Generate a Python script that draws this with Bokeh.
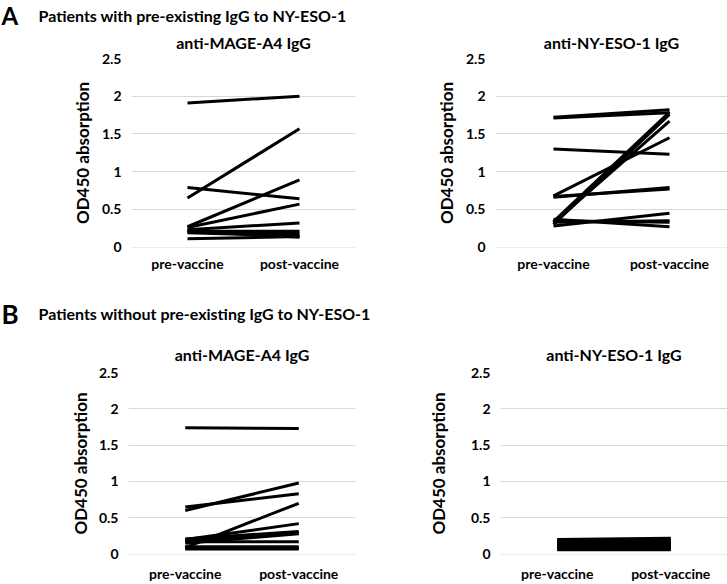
from bokeh.plotting import figure
from bokeh.models import (ColumnDataSource, FactorRange, Range1d, FixedTicker,
                          NumeralTickFormatter, Title)
from bokeh.layouts import column, row
from bokeh.core.properties import value
from bokeh.embed import file_html
from bokeh.resources import INLINE

FONT = "Lato"

categories = ["pre-vaccine", "post-vaccine"]
y_ticks = [0, 0.5, 1, 1.5, 2, 2.5]

header_a = "Patients with pre-existing IgG to NY-ESO-1"
header_b = "Patients without pre-existing IgG to NY-ESO-1"
title_mage = "anti-MAGE-A4 IgG"
title_nyeso = "anti-NY-ESO-1 IgG"
y_label = "OD450 absorption"

# Panel A, anti-MAGE-A4 IgG
a_mage_pre = [1.91, 0.65, 0.79, 0.27, 0.26, 0.23, 0.21, 0.20, 0.19, 0.22, 0.11]
a_mage_post = [2.00, 1.57, 0.64, 0.89, 0.57, 0.32, 0.21, 0.18, 0.15, 0.13, 0.14]

# Panel A, anti-NY-ESO-1 IgG
a_nyeso_pre = [1.72, 1.71, 1.30, 0.68, 0.66, 0.67, 0.34, 0.32, 0.30, 0.37, 0.28, 0.33, 0.35]
a_nyeso_post = [1.82, 1.78, 1.23, 1.45, 0.79, 0.77, 1.79, 1.67, 1.76, 0.27, 0.45, 0.35, 0.33]

# Panel B, anti-MAGE-A4 IgG
b_mage_pre = [1.74, 0.65, 0.60, 0.09, 0.20, 0.21, 0.18, 0.15, 0.17, 0.10, 0.08, 0.07]
b_mage_post = [1.73, 0.83, 0.98, 0.70, 0.42, 0.31, 0.29, 0.28, 0.17, 0.10, 0.08, 0.07]

# Panel B, anti-NY-ESO-1 IgG
b_nyeso_pre = [0.20, 0.19, 0.17, 0.16, 0.15, 0.14, 0.13, 0.12, 0.11, 0.10, 0.09, 0.08, 0.07, 0.06]
b_nyeso_post = [0.22, 0.20, 0.18, 0.15, 0.16, 0.12, 0.14, 0.10, 0.12, 0.09, 0.10, 0.07, 0.08, 0.06]


def panel(title, pre, post, width, height, left, right, top, bottom,
          ylab_standoff, spacer_px, xlab_standoff):
    p = figure(width=width, height=height, output_backend="svg", toolbar_location=None,
               x_range=FactorRange(*categories), y_range=Range1d(-0.005, 2.5),
               min_border_left=left, min_border_right=right,
               min_border_top=top, min_border_bottom=bottom)
    # thin blank title used as a gap between the frame and the panel title
    p.add_layout(Title(text=" ", text_font_size=f"{spacer_px}px", standoff=0), "above")
    p.add_layout(Title(text=title, align="center", text_font=FONT, text_font_style="bold",
                       text_font_size="16px", text_color="#000000", standoff=0), "above")
    src = ColumnDataSource(dict(xs=[list(categories) for _ in pre],
                                ys=[[a, b] for a, b in zip(pre, post)]))
    p.multi_line(xs="xs", ys="ys", source=src, line_color="black", line_width=3)
    p.outline_line_color = None
    p.xgrid.grid_line_color = None
    p.ygrid.grid_line_color = "#d9d9d9"
    p.ygrid.grid_line_width = 1
    p.yaxis.ticker = FixedTicker(ticks=y_ticks)
    p.yaxis.formatter = NumeralTickFormatter(format="0.[0]")
    for ax in (p.xaxis[0], p.yaxis[0]):
        ax.axis_line_color = None
        ax.major_tick_line_color = None
        ax.minor_tick_line_color = None
        ax.major_tick_out = 0
        ax.major_tick_in = 0
        ax.major_label_text_font = FONT
        ax.major_label_text_font_style = "bold"
        ax.major_label_text_font_size = "14px"
        ax.major_label_text_color = "#000000"
    p.xaxis.major_label_standoff = xlab_standoff
    p.yaxis.major_label_standoff = 10
    p.yaxis.axis_label = y_label
    p.yaxis.axis_label_text_font = FONT
    p.yaxis.axis_label_text_font_style = "bold"
    p.yaxis.axis_label_text_font_size = "17px"
    p.yaxis.axis_label_text_color = "#000000"
    p.yaxis.axis_label_standoff = ylab_standoff
    return p


def header(letter, text, height, ymid, letter_size):
    h = figure(width=727, height=height, output_backend="svg", toolbar_location=None,
               x_range=Range1d(0, 727), y_range=Range1d(0, height),
               x_axis_location=None, y_axis_location=None, min_border=0)
    h.outline_line_color = None
    h.grid.grid_line_color = None
    h.text(x=[1], y=[ymid], text=[letter], text_font=value(FONT), text_font_style="bold",
           text_font_size=letter_size, text_baseline="middle", text_align="left",
           text_color="black")
    h.text(x=[38], y=[ymid], text=[text], text_font=value(FONT), text_font_style="bold",
           text_font_size="16px", text_baseline="middle", text_align="left", text_color="black")
    return h


hA = header("A", header_a, 29, 14.5, "24px")
p1 = panel(title_mage, a_mage_pre, a_mage_post, 364, 256, 131, 9, 29, 38, 6, 4, 7)
p2 = panel(title_nyeso, a_nyeso_pre, a_nyeso_post, 363, 256, 131, 0, 29, 38, 6, 4, 7)
hB = header("B", header_b, 48, 20, "26px")
p3 = panel(title_mage, b_mage_pre, b_mage_post, 364, 251, 128, 9, 39, 26, 5, 7, 10)
p4 = panel(title_nyeso, b_nyeso_pre, b_nyeso_post, 363, 251, 136, 0, 36, 29, 19, 7, 10)

layout = column(hA, row(p1, p2), hB, row(p3, p4))

with open("out.html", "w") as f:
    f.write(file_html(layout, INLINE))
